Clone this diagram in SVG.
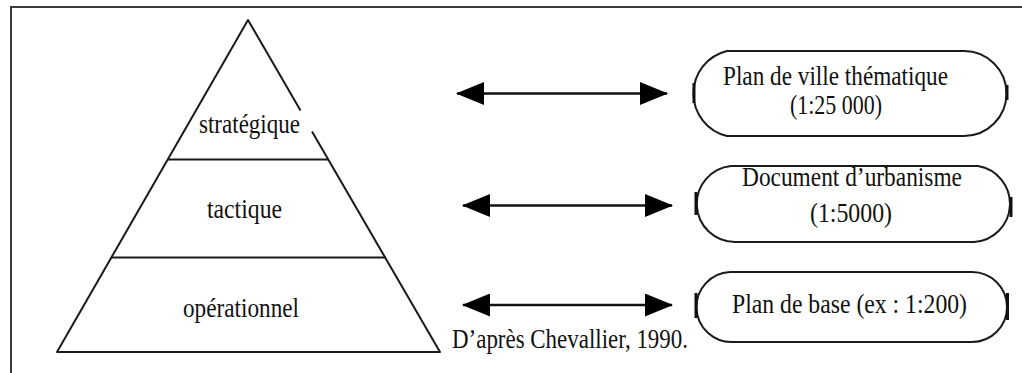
<svg xmlns="http://www.w3.org/2000/svg" width="1022" height="373" viewBox="0 0 1022 373">
<style>
.frame{fill:none;stroke:#3a3a3a;stroke-width:2}
.shape{fill:none;stroke:#1a1a1a;stroke-width:2;stroke-linejoin:round}
.tick{stroke:#111;stroke-width:3}
.txt{font-family:"Liberation Serif","Times New Roman",serif;font-size:27px;fill:#111}
.arrow{stroke:#111;stroke-width:2.5;fill:none}
</style>
<defs>
<marker id="ah" viewBox="0 0 28 23" refX="27" refY="11.5" markerWidth="28" markerHeight="23" markerUnits="userSpaceOnUse" orient="auto-start-reverse">
<path d="M0,0 L28,11.5 L0,23 z" fill="#000"/>
</marker>
</defs>
<rect width="1022" height="373" fill="#fff"/>
<path class="frame" d="M11,373 L11,7 L1022,7"/>

<g id="pyramid">
<path class="shape" d="M300.5,110.5 L248,20 L57,352 L440,352 L312,131.5"/>
<g id="level-strategique">
<text class="txt" x="199" y="133" textLength="101" lengthAdjust="spacingAndGlyphs">stratégique</text>
</g>
<line class="shape" x1="167.5" y1="159.5" x2="328.5" y2="159.5"/>
<g id="level-tactique">
<text class="txt" x="207" y="218" textLength="75" lengthAdjust="spacingAndGlyphs">tactique</text>
</g>
<line class="shape" x1="111" y1="257.5" x2="386" y2="257.5"/>
<g id="level-operationnel">
<text class="txt" x="183" y="316.5" textLength="116" lengthAdjust="spacingAndGlyphs">opérationnel</text>
</g>
</g>

<g id="plan-ville">
<path class="shape" d="M727,51 L964,51 A42.5,42.5 0 0 1 964,136 L727,136 A43.7,43.7 0 0 1 727,51 Z"/>
<line class="tick" x1="694" y1="83" x2="694" y2="103"/>
<line class="tick" x1="1007" y1="85" x2="1007" y2="100"/>
<text class="txt" x="723" y="84.5" textLength="225" lengthAdjust="spacingAndGlyphs">Plan de ville thématique</text>
<text class="txt" x="790" y="114" textLength="92" lengthAdjust="spacingAndGlyphs">(1:25 000)</text>
</g>

<g id="document-urbanisme">
<path class="shape" d="M731,166 L978,166 A38.3,38.3 0 0 1 974,242 L735,242 A38.1,38.1 0 0 1 731,166 Z"/>
<line class="tick" x1="696" y1="192" x2="696" y2="215"/>
<line class="tick" x1="1011" y1="197" x2="1011" y2="217"/>
<text class="txt" x="742" y="186" textLength="220" lengthAdjust="spacingAndGlyphs">Document d’urbanisme</text>
<text class="txt" x="810" y="221.5" textLength="82" lengthAdjust="spacingAndGlyphs">(1:5000)</text>
</g>

<g id="plan-base">
<path class="shape" d="M730,272 L972,272 A35,35 0 0 1 972,342 L733,342 A35,35 0 0 1 730,272 Z"/>
<line class="tick" x1="696" y1="293" x2="696" y2="318"/>
<line class="tick" x1="1007.5" y1="293" x2="1007.5" y2="320"/>
<text class="txt" x="732" y="313" textLength="235" lengthAdjust="spacingAndGlyphs">Plan de base (ex : 1:200)</text>
</g>

<g id="source">
<text class="txt" x="452" y="348" textLength="236" lengthAdjust="spacingAndGlyphs">D’après Chevallier, 1990.</text>
</g>

<g id="connectors">
<line class="arrow" x1="457" y1="93.5" x2="667" y2="93.5" marker-start="url(#ah)" marker-end="url(#ah)"/>
<line class="arrow" x1="463" y1="205.5" x2="672" y2="205.5" marker-start="url(#ah)" marker-end="url(#ah)"/>
<line class="arrow" x1="463" y1="305" x2="672" y2="305" marker-start="url(#ah)" marker-end="url(#ah)"/>
</g>
</svg>
